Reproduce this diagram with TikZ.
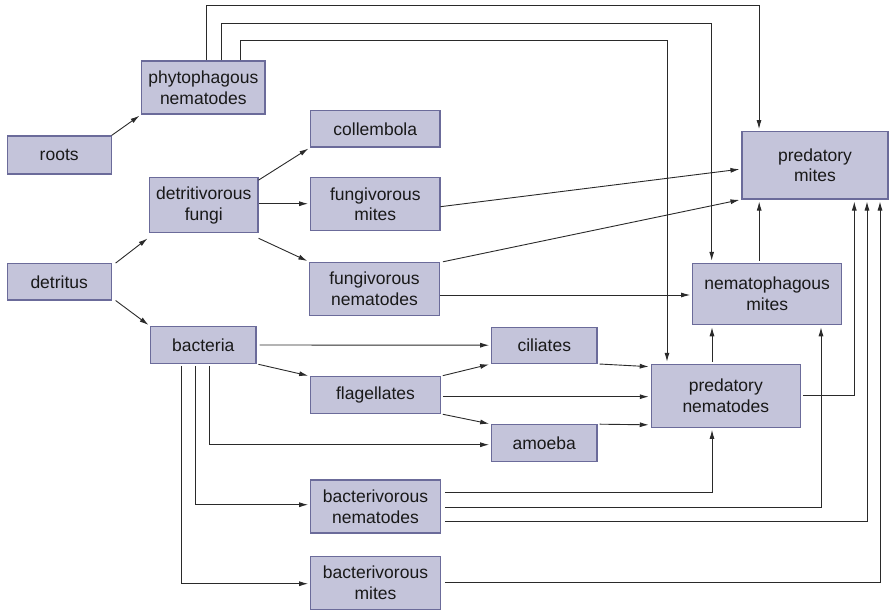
\documentclass[tikz,border=0pt]{standalone}
\usepackage{fontspec}
\setmainfont{Liberation Sans}
\usetikzlibrary{arrows.meta,calc}
\definecolor{boxfill}{HTML}{C4C4DA}
\definecolor{boxline}{HTML}{6B6B9A}
\definecolor{lnk}{HTML}{2A2A2A}
\tikzset{
  box/.style={draw=boxline, fill=boxfill, line width=1.1pt, inner sep=0pt, align=center,
    font=\fontsize{17.5}{20.7}\selectfont, text=black!90},
  arr/.style={draw=lnk, line width=0.9pt, -{Latex[length=9pt,width=5pt]}, shorten >=2pt},
}
\begin{document}
\begin{tikzpicture}[x=1pt,y=-1pt]
\useasboundingbox (0,0) rectangle (889,610);
% nodes
\node[box, minimum width=123.3pt, minimum height=53pt] (phyto) at (203.3,87.5) {phytophagous\\nematodes};
\node[box, minimum width=103.7pt, minimum height=38pt] (roots) at (59.2,155) {roots};
\node[box, minimum width=129.3pt, minimum height=36.3pt] (coll) at (375.3,128.8) {collembola};
\node[box, minimum width=108.3pt, minimum height=55pt] (fungi) at (203.8,205.2) {detritivorous\\fungi};
\node[box, minimum width=129.3pt, minimum height=53pt] (fmites) at (375.3,204.2) {fungivorous\\mites};
\node[box, minimum width=103.7pt, minimum height=36.3pt] (detritus) at (59.2,281.8) {detritus};
\node[box, minimum width=129.6pt, minimum height=52.7pt] (fnem) at (374.5,288.7) {fungivorous\\nematodes};
\node[box, minimum width=146pt, minimum height=67.3pt] (predmites) at (815,165.3) {predatory\\mites};
\node[box, minimum width=149pt, minimum height=61.4pt] (nemamites) at (767.2,294) {nematophagous\\mites};
\node[box, minimum width=105.3pt, minimum height=36.6pt] (bact) at (203.3,345) {bacteria};
\node[box, minimum width=129.6pt, minimum height=36.6pt] (flag) at (375.5,395) {flagellates};
\node[box, minimum width=129.6pt, minimum height=53pt] (bnem) at (375.5,506.5) {bacterivorous\\nematodes};
\node[box, minimum width=129.6pt, minimum height=52.6pt] (bmites) at (375.5,583) {bacterivorous\\mites};
\node[box, minimum width=105.3pt, minimum height=36.3pt] (cil) at (544.3,345.2) {ciliates};
\node[box, minimum width=105.3pt, minimum height=36.6pt] (amoeba) at (544.3,443) {amoeba};
\node[box, minimum width=149pt, minimum height=63pt] (prednem) at (725.8,395.8) {predatory\\nematodes};
% connectors
\draw[arr] (roots.north east) -- (phyto.south west);
\draw[arr] ([xshift=4pt]detritus.north east) -- ([yshift=-4pt]fungi.south west);
\draw[arr] ([xshift=4pt]detritus.south east) -- (bact.north west);
\draw[arr] ([yshift=-3pt]fungi.north east) -- (coll.south west);
\draw[arr] ([yshift=1.5pt]fungi.east) -- ([yshift=1.5pt]fungi.east -| fmites.west);
\draw[arr] ([yshift=-5pt]fungi.south east) -- (fnem.north west);
\draw[arr] ([yshift=-2.5pt]fmites.east) -- ([yshift=-3.7pt]predmites.west);
\draw[arr] ([xshift=3pt]fnem.north east) -- (predmites.south west);
\draw[arr] ([yshift=-6.3pt]fnem.east) -- ([yshift=-6.3pt]fnem.east -| nemamites.west);
\draw[arr, shorten <=2pt] ([xshift=-8pt]nemamites.north) -- ([xshift=-8pt]nemamites.north |- predmites.south);
\draw[arr] ([xshift=3pt]phyto.north) -- ++(0,-55.3) -| ([xshift=-56pt]predmites.north);
\draw[arr] ([xshift=18.4pt]phyto.north) -- ++(0,-36.7) -| ([xshift=-55.5pt]nemamites.north);
\draw[arr] ([xshift=36.7pt]phyto.north) -- ++(0,-19.7) -| ([xshift=-58.8pt]prednem.north);
\draw[arr, shorten <=3pt] (bact.east) -- (cil.west);
\draw[arr, shorten <=2pt] (bact.south east) -- (flag.north west);
\draw[arr, shorten <=2pt] ([xshift=6.4pt]bact.south) |- ([yshift=-1.7pt]amoeba.west);
\draw[arr, shorten <=2pt] ([xshift=-7.6pt]bact.south) |- ([yshift=1.8pt]bnem.west);
\draw[arr, shorten <=2pt] ([xshift=-21.6pt]bact.south) |- ([yshift=-0.7pt]bmites.west);
\draw[arr, shorten <=2pt] (flag.north east) -- (cil.south west);
\draw[arr, shorten <=2pt] ([yshift=-1.7pt]flag.east) -- ([yshift=-1.7pt]flag.east -| prednem.west);
\draw[arr, shorten <=2pt] (flag.south east) -- (amoeba.north west);
\draw[arr, shorten <=2pt] (cil.south east) -- ([yshift=-3pt]prednem.north west);
\draw[arr, shorten <=2pt] (amoeba.north east) -- ([yshift=3pt]prednem.south west);
\draw[arr, shorten <=2pt] ([xshift=-13.8pt]prednem.north) -- ([xshift=-13.8pt]prednem.north |- nemamites.south);
\draw[arr, shorten <=2pt] (prednem.east) -| ([xshift=39.3pt]predmites.south);
\draw[arr, shorten <=4pt] ([yshift=14.5pt]bnem.east) -| ([xshift=-13.8pt]prednem.south);
\draw[arr, shorten <=4pt] ([yshift=-0.5pt]bnem.east) -| ([xshift=53.8pt]nemamites.south);
\draw[arr, shorten <=4pt] ([yshift=-14.5pt]bnem.east) -| ([xshift=52pt]predmites.south);
\draw[arr, shorten <=4pt] ([yshift=0.3pt]bmites.east) -| ([xshift=65pt]predmites.south);
\end{tikzpicture}
\end{document}
